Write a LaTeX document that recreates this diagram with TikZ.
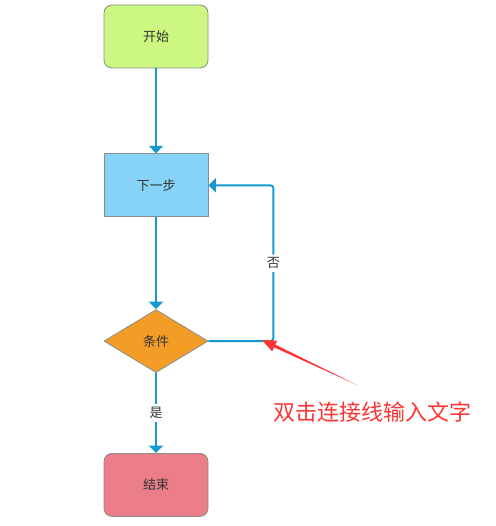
\documentclass[tikz,border=0pt]{standalone}
\usepackage{fontspec}
\setmainfont{Noto Sans CJK SC}
\usetikzlibrary{positioning,shapes.geometric,arrows.meta}
\definecolor{startgreen}{RGB}{204,247,128}
\definecolor{stepblue}{RGB}{135,211,248}
\definecolor{condorange}{RGB}{243,156,38}
\definecolor{endpink}{RGB}{235,126,137}
\definecolor{edgegray}{RGB}{140,140,140}
\definecolor{flowblue}{RGB}{20,155,205}
\definecolor{hintred}{RGB}{255,51,51}
\begin{document}
\begin{tikzpicture}[x=1pt,y=1pt,
  every node/.style = {text=black!80, font=\fontsize{13}{15}\selectfont},
  box/.style = {draw=edgegray, line width=0.8pt, minimum width=104pt, minimum height=63pt, inner sep=0pt},
  roundbox/.style = {box, rounded corners=8pt},
  cond/.style = {draw=edgegray, line width=0.8pt, diamond, aspect=1.65, minimum width=104pt,
    minimum height=63pt, inner sep=0pt},
  flow/.style = {draw=flowblue, line width=2pt,
    -{Triangle[width=14pt,length=7.5pt]}},
  lbl/.style = {fill=white, inner sep=3pt}]
  \useasboundingbox (0,0) rectangle (495,-526);
  \node [roundbox, fill=startgreen] (start) at (156,-36.5) {开始};
  \node [box, fill=stepblue, below=85pt of start] (next) {下一步};
  \node [cond, fill=condorange, below=92pt of next] (check) {条件};
  \node [roundbox, fill=endpink, below=80pt of check] (stop) {结束};
  \coordinate [right=65pt of next.east] (back);
  % connectors
  \draw [flow] (start) -- (next);
  \draw [flow] (next) -- (check);
  \draw [flow] (check) -- node [lbl] {是} (stop);
  \draw [flow, rounded corners=3pt] (check.east) -| node [lbl, pos=0.75] {否} (back) -- (next.east);
  % hint
  \fill [hintred] (262,-340) -- (277.2,-340.6) -- (275.3,-344.6) -- (357,-385)
    -- (274.1,-347.4) -- (272.1,-351.4) -- cycle;
  \node [text=hintred, font=\fontsize{22}{26}\selectfont] (hint) at (372,-412) {双击连接线输入文字};
\end{tikzpicture}
\end{document}
